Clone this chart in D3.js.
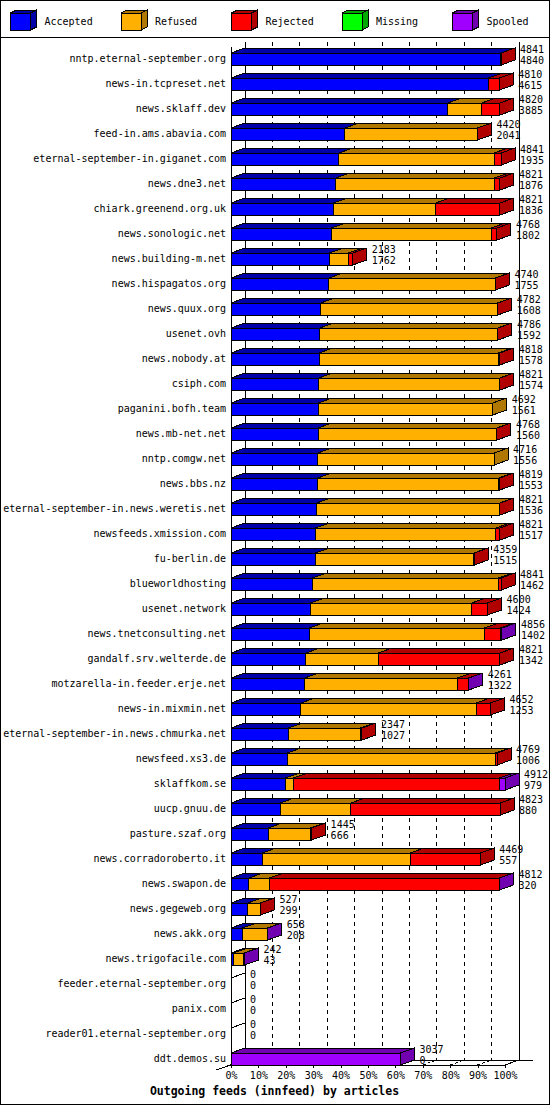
<!DOCTYPE html>
<html>
<head>
    <meta charset="utf-8">
    <title>Outgoing feeds (innfeed) by articles</title>
    <script src="https://d3js.org/d3.v7.min.js"></script>
    <style>
        body { margin: 0; background: #fff; }
        svg { display: block; }
        text { font-family: "DejaVu Sans Mono", "Liberation Mono", monospace; font-size: 10px; fill: #000; }
        .title { font-weight: bold; font-size: 11.5px; }
    </style>
</head>
<body>
    <svg id="chart"></svg>

    <script>
        // data
        const hosts = [
            "nntp.eternal-september.org", "news-in.tcpreset.net", "news.sklaff.dev", "feed-in.ams.abavia.com",
            "eternal-september-in.giganet.com", "news.dne3.net", "chiark.greenend.org.uk", "news.sonologic.net",
            "news.building-m.net", "news.hispagatos.org", "news.quux.org", "usenet.ovh", "news.nobody.at",
            "csiph.com", "paganini.bofh.team", "news.mb-net.net", "nntp.comgw.net", "news.bbs.nz",
            "eternal-september-in.news.weretis.net", "newsfeeds.xmission.com", "fu-berlin.de", "blueworldhosting",
            "usenet.network", "news.tnetconsulting.net", "gandalf.srv.welterde.de", "motzarella-in.feeder.erje.net",
            "news-in.mixmin.net", "eternal-september-in.news.chmurka.net", "newsfeed.xs3.de", "sklaffkom.se",
            "uucp.gnuu.de", "pasture.szaf.org", "news.corradoroberto.it", "news.swapon.de", "news.gegeweb.org",
            "news.akk.org", "news.trigofacile.com", "feeder.eternal-september.org", "panix.com",
            "reader01.eternal-september.org", "ddt.demos.su"
        ];
        const offered = [4841, 4810, 4820, 4420, 4841, 4821, 4821, 4768, 2183, 4740, 4782, 4786, 4818, 4821, 4692, 4768,
            4716, 4819, 4821, 4821, 4359, 4841, 4600, 4856, 4821, 4261, 4652, 2347, 4769, 4912, 4823, 1445, 4469, 4812,
            527, 658, 242, 0, 0, 0, 3037];
        const accepted = [4840, 4615, 3885, 2041, 1935, 1876, 1836, 1802, 1762, 1755, 1608, 1592, 1578, 1574, 1561, 1560,
            1556, 1553, 1536, 1517, 1515, 1462, 1424, 1402, 1342, 1322, 1253, 1027, 1006, 979, 880, 666, 557, 320,
            299, 208, 43, 0, 0, 0, 0];
        const refused = [0, 0, 610, 2374, 2780, 2845, 1835, 2860, 342, 2980, 3169, 3189, 3210, 3242, 3131, 3203,
            3160, 3246, 3280, 3232, 2839, 3333, 2893, 3140, 1295, 2735, 3140, 1296, 3735, 140, 1270, 761, 2655, 370,
            222, 440, 190, 0, 0, 0, 0];
        const rejected = [1, 195, 325, 5, 126, 100, 1150, 106, 79, 5, 5, 5, 30, 5, 0, 5,
            0, 20, 5, 72, 5, 46, 283, 283, 2184, 200, 259, 24, 28, 3690, 2673, 18, 1257, 4117,
            6, 0, 0, 0, 0, 0, 0];
        const missing = [0, 0, 0, 0, 0, 0, 0, 0, 0, 0, 0, 0, 0, 0, 0, 0,
            0, 0, 0, 0, 0, 0, 0, 0, 0, 0, 0, 0, 0, 0, 0, 0, 0, 0,
            0, 0, 0, 0, 0, 0, 0];
        const spooled = [0, 0, 0, 0, 0, 0, 0, 0, 0, 0, 0, 0, 0, 0, 0, 0,
            0, 0, 0, 0, 0, 0, 0, 31, 0, 4, 0, 0, 0, 103, 0, 0, 0, 5,
            0, 10, 9, 0, 0, 0, 3037];

        const seriesNames = ["Accepted", "Refused", "Rejected", "Missing", "Spooled"];
        const seriesValues = [accepted, refused, rejected, missing, spooled];
        const frontColors = ["#0000ff", "#ffb000", "#ff0000", "#00ff00", "#a000ff"];
        const darkColors = ["#0000a8", "#b07800", "#b00000", "#00a800", "#7000b0"];
        const percentTicks = [0, 0.1, 0.2, 0.3, 0.4, 0.5, 0.6, 0.7, 0.8, 0.9, 1];

        // chart dimensions
        const width = 550;
        const height = 1105;
        const depthX = 14;    // 3d offset of the bars
        const depthY = 5;
        const barH = 12;
        const floorY = 1065;
        const plotTop = 42;

        const svg = d3.select("#chart")
            .attr("width", width)
            .attr("height", height)
            .attr("shape-rendering", "crispEdges");

        // scales: 100% is the biggest offered count
        const maxOffered = d3.max(offered);
        const xScale = d3.scaleLinear().domain([0, maxOffered]).range([231, 505]);
        const pctScale = d3.scaleLinear().domain([0, 1]).range([231, 505]);
        const yScale = d3.scalePoint().domain(hosts).range([59, 1059]);

        // outer frame and legend box
        svg.append("rect")
            .attr("x", 0.5).attr("y", 0.5)
            .attr("width", width - 1).attr("height", height - 1)
            .attr("fill", "#fff").attr("stroke", "#000");
        svg.append("line")
            .attr("x1", 0).attr("x2", width)
            .attr("y1", 37.5).attr("y2", 37.5)
            .attr("stroke", "#000");

        const legend = svg.append("g")
            .selectAll("g")
            .data(seriesNames)
            .join("g")
            .attr("transform", (d, i) => `translate(${10.5 + i * 110.5}, 13)`);

        legend.append("polygon")
            .attr("points", "0,0 6,-3 26,-3 20,0")
            .attr("fill", (d, i) => darkColors[i]).attr("stroke", "#000");
        legend.append("polygon")
            .attr("points", "20,0 26,-3 26,14 20,17")
            .attr("fill", (d, i) => darkColors[i]).attr("stroke", "#000");
        legend.append("rect")
            .attr("width", 20).attr("height", 17)
            .attr("fill", (d, i) => frontColors[i]).attr("stroke", "#000");
        legend.append("text")
            .attr("x", 34).attr("y", 8.5).attr("dy", "0.35em")
            .text(d => d);

        // back wall grid lines
        const grid = svg.append("g");
        grid.selectAll(".vgrid")
            .data(percentTicks)
            .join("line")
            .attr("x1", d => pctScale(d) + depthX).attr("x2", d => pctScale(d) + depthX)
            .attr("y1", plotTop).attr("y2", floorY - depthY)
            .attr("stroke", "#000")
            .attr("stroke-dasharray", d => (d === 0 || d === 1) ? null : "4,4");

        // floor lines going to the back
        grid.selectAll(".fgrid")
            .data(percentTicks)
            .join("line")
            .attr("x1", d => pctScale(d)).attr("x2", d => pctScale(d) + depthX)
            .attr("y1", floorY).attr("y2", floorY - depthY)
            .attr("stroke", "#000")
            .attr("stroke-dasharray", d => (d === 0 || d === 1) ? null : "3,2");

        // left edge of the plot, floor edges
        grid.append("line")
            .attr("x1", 231).attr("x2", 231)
            .attr("y1", plotTop + depthY).attr("y2", floorY)
            .attr("stroke", "#000");
        grid.append("line")
            .attr("x1", 216).attr("x2", 245)
            .attr("y1", floorY + 5).attr("y2", floorY - depthY)
            .attr("stroke", "#000");
        grid.append("line")
            .attr("x1", 245).attr("x2", 533)
            .attr("y1", floorY - depthY).attr("y2", floorY - depthY)
            .attr("stroke", "#000");

        // x axis
        const xAxis = svg.append("g")
            .attr("transform", `translate(0, ${floorY})`)
            .call(d3.axisBottom(pctScale).tickValues(percentTicks).tickFormat(d3.format(".0%")).tickSize(3).tickPadding(4));
        xAxis.select(".domain").attr("stroke", "#000");
        xAxis.selectAll("text")
            .attr("font-family", "DejaVu Sans Mono, monospace")
            .attr("font-size", "10px")
            .attr("fill", "#000");

        // the stacked 3d bars
        const rows = svg.append("g")
            .selectAll("g")
            .data(hosts)
            .join("g");

        rows.each(function (host, r) {
            const g = d3.select(this);
            const top = yScale(host) - barH / 2;
            let acc = 0;
            let last = null;
            seriesValues.forEach((vals, s) => {
                const v = vals[r];
                if (v <= 0) return;
                const x0 = xScale(acc);
                const x1 = xScale(acc + v);
                acc += v;
                // top face
                g.append("polygon")
                    .attr("points", [[x0, top], [x0 + depthX, top - depthY], [x1 + depthX, top - depthY], [x1, top]].join(" "))
                    .attr("fill", darkColors[s]).attr("stroke", "#000");
                // front face
                g.append("rect")
                    .attr("x", x0).attr("y", top)
                    .attr("width", x1 - x0).attr("height", barH)
                    .attr("fill", frontColors[s]).attr("stroke", "#000");
                last = { x: x1, s: s };
            });
            if (last) {
                // side face of the outer segment
                g.append("polygon")
                    .attr("points", [[last.x, top], [last.x + depthX, top - depthY], [last.x + depthX, top - depthY + barH], [last.x, top + barH]].join(" "))
                    .attr("fill", darkColors[last.s]).attr("stroke", "#000");
            } else {
                // empty row: just the edge of the bar
                g.append("line")
                    .attr("x1", xScale(0)).attr("x2", xScale(0) + depthX)
                    .attr("y1", top).attr("y2", top - depthY)
                    .attr("stroke", "#000");
            }
        });

        // host names
        svg.append("g")
            .selectAll("text")
            .data(hosts)
            .join("text")
            .attr("x", 226)
            .attr("y", d => yScale(d) - 1)
            .attr("dy", "0.35em")
            .attr("text-anchor", "end")
            .text(d => d);

        // offered / accepted numbers
        const nums = svg.append("g")
            .selectAll("g")
            .data(hosts)
            .join("g")
            .attr("transform", (d, i) => `translate(${xScale(offered[i]) + depthX + 5}, ${yScale(d)})`);
        nums.append("text")
            .attr("y", -9.5).attr("dy", "0.35em")
            .text((d, i) => offered[i]);
        nums.append("text")
            .attr("y", 1.5).attr("dy", "0.35em")
            .text((d, i) => accepted[i]);

        // chart title
        svg.append("text")
            .attr("class", "title")
            .attr("x", 274.5)
            .attr("y", 1091)
            .attr("dy", "0.35em")
            .attr("text-anchor", "middle")
            .text("Outgoing feeds (innfeed) by articles");
    </script>
</body>
</html>
